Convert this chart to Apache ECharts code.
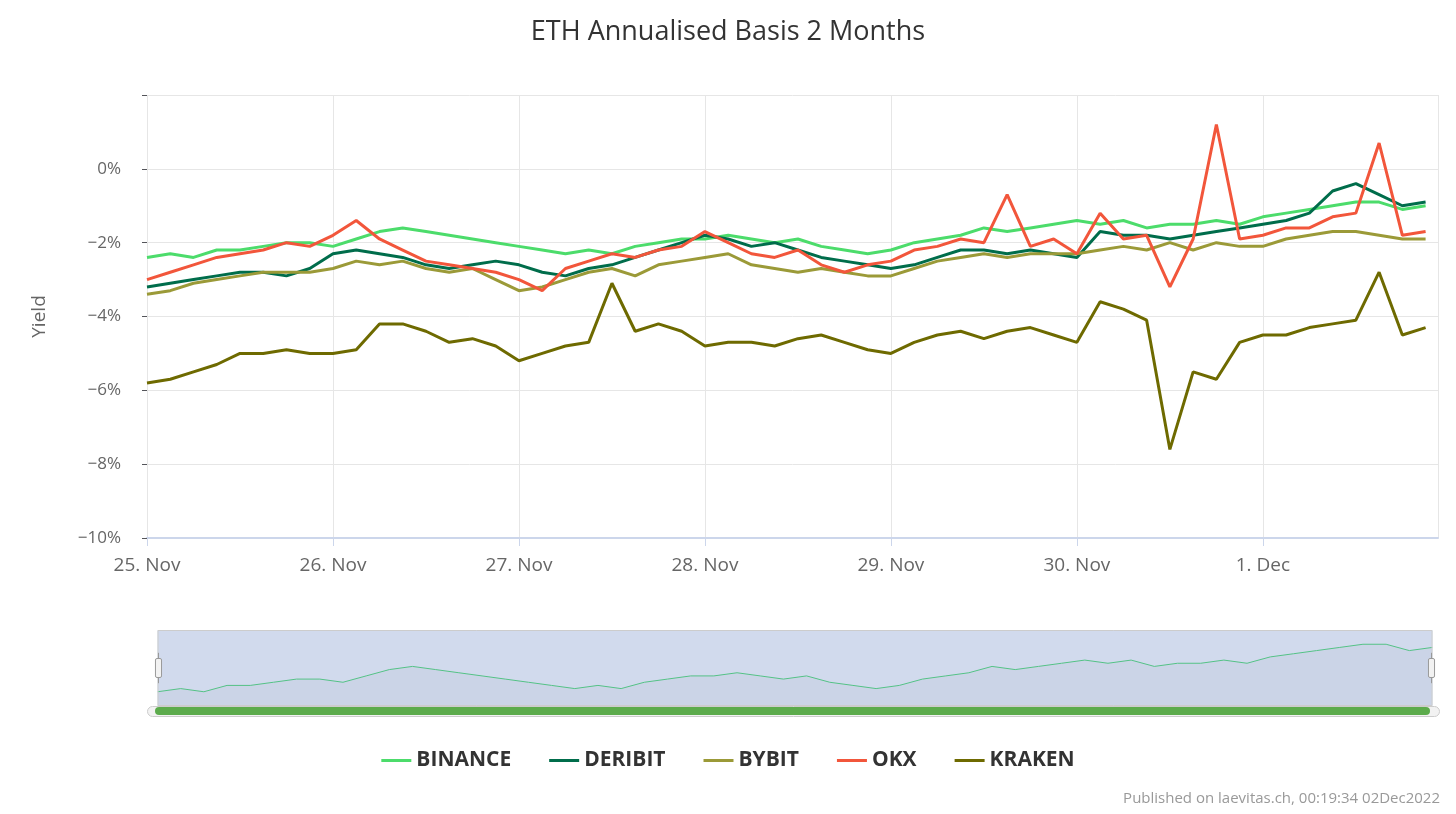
<!DOCTYPE html>
<html>
<head>
<meta charset="utf-8">
<script src="https://cdn.jsdelivr.net/npm/echarts@6/dist/echarts.min.js"></script>
<style>
html, body { margin: 0; padding: 0; background: #fff; }
#chart { width: 1456px; height: 814px; }
</style>
</head>
<body>
<div id="chart"></div>
<script>
// x values: hours since 25 Nov 00:00, one point every 3 hours
var stepHours = 3;
var dayLabels = ['25. Nov', '26. Nov', '27. Nov', '28. Nov', '29. Nov', '30. Nov', '1. Dec'];
var seriesNames = ['BINANCE', 'DERIBIT', 'BYBIT', 'OKX', 'KRAKEN'];
var seriesColors = ['#4cdc6b', '#006d4b', '#9b9a38', '#f2563b', '#6e6a00'];

var binance = [
	-2.4, -2.3, -2.4, -2.2, -2.2, -2.1, -2.0, -2.0,
	-2.1, -1.9, -1.7, -1.6, -1.7, -1.8, -1.9, -2.0,
	-2.1, -2.2, -2.3, -2.2, -2.3, -2.1, -2.0, -1.9,
	-1.9, -1.8, -1.9, -2.0, -1.9, -2.1, -2.2, -2.3,
	-2.2, -2.0, -1.9, -1.8, -1.6, -1.7, -1.6, -1.5,
	-1.4, -1.5, -1.4, -1.6, -1.5, -1.5, -1.4, -1.5,
	-1.3, -1.2, -1.1, -1.0, -0.9, -0.9, -1.1, -1.0
];
var deribit = [
	-3.2, -3.1, -3.0, -2.9, -2.8, -2.8, -2.9, -2.7,
	-2.3, -2.2, -2.3, -2.4, -2.6, -2.7, -2.6, -2.5,
	-2.6, -2.8, -2.9, -2.7, -2.6, -2.4, -2.2, -2.0,
	-1.8, -1.9, -2.1, -2.0, -2.2, -2.4, -2.5, -2.6,
	-2.7, -2.6, -2.4, -2.2, -2.2, -2.3, -2.2, -2.3,
	-2.4, -1.7, -1.8, -1.8, -1.9, -1.8, -1.7, -1.6,
	-1.5, -1.4, -1.2, -0.6, -0.4, -0.7, -1.0, -0.9
];
var bybit = [
	-3.4, -3.3, -3.1, -3.0, -2.9, -2.8, -2.8, -2.8,
	-2.7, -2.5, -2.6, -2.5, -2.7, -2.8, -2.7, -3.0,
	-3.3, -3.2, -3.0, -2.8, -2.7, -2.9, -2.6, -2.5,
	-2.4, -2.3, -2.6, -2.7, -2.8, -2.7, -2.8, -2.9,
	-2.9, -2.7, -2.5, -2.4, -2.3, -2.4, -2.3, -2.3,
	-2.3, -2.2, -2.1, -2.2, -2.0, -2.2, -2.0, -2.1,
	-2.1, -1.9, -1.8, -1.7, -1.7, -1.8, -1.9, -1.9
];
var okx = [
	-3.0, -2.8, -2.6, -2.4, -2.3, -2.2, -2.0, -2.1,
	-1.8, -1.4, -1.9, -2.2, -2.5, -2.6, -2.7, -2.8,
	-3.0, -3.3, -2.7, -2.5, -2.3, -2.4, -2.2, -2.1,
	-1.7, -2.0, -2.3, -2.4, -2.2, -2.6, -2.8, -2.6,
	-2.5, -2.2, -2.1, -1.9, -2.0, -0.7, -2.1, -1.9,
	-2.3, -1.2, -1.9, -1.8, -3.2, -1.9, 1.2, -1.9,
	-1.8, -1.6, -1.6, -1.3, -1.2, 0.7, -1.8, -1.7
];
var kraken = [
	-5.8, -5.7, -5.5, -5.3, -5.0, -5.0, -4.9, -5.0,
	-5.0, -4.9, -4.2, -4.2, -4.4, -4.7, -4.6, -4.8,
	-5.2, -5.0, -4.8, -4.7, -3.1, -4.4, -4.2, -4.4,
	-4.8, -4.7, -4.7, -4.8, -4.6, -4.5, -4.7, -4.9,
	-5.0, -4.7, -4.5, -4.4, -4.6, -4.4, -4.3, -4.5,
	-4.7, -3.6, -3.8, -4.1, -7.6, -5.5, -5.7, -4.7,
	-4.5, -4.5, -4.3, -4.2, -4.1, -2.8, -4.5, -4.3
];

var allValues = [binance, deribit, bybit, okx, kraken];

function toPoints(values) {
	return values.map(function (v, i) {
		return [i * stepHours, v];
	});
}

var series = seriesNames.map(function (name, k) {
	return {
		name: name,
		type: 'line',
		showSymbol: false,
		smooth: false,
		lineStyle: { width: 3, color: seriesColors[k] },
		itemStyle: { color: seriesColors[k] },
		data: toPoints(allValues[k])
	};
});

var chart = echarts.init(document.getElementById('chart'));
chart.setOption({
	animation: false,
	title: {
		text: 'ETH Annualised Basis 2 Months',
		left: 'center',
		top: 14,
		textStyle: { fontFamily: 'Open Sans', fontSize: 27, fontWeight: 'normal', color: '#333' }
	},
	graphic: [{
		type: 'text',
		right: 16,
		bottom: 8,
		style: { text: 'Published on laevitas.ch, 00:19:34 02Dec2022', fill: '#999', font: '15px "Open Sans"' }
	}, {
		// navigator scrollbar
		type: 'rect',
		left: 147,
		top: 706,
		shape: { width: 1292, height: 10, r: 5 },
		style: { fill: '#f2f2f2', stroke: '#cccccc' }
	}, {
		type: 'rect',
		left: 155,
		top: 707,
		shape: { width: 1275, height: 8, r: 4 },
		style: { fill: '#5cab4c' }
	}],
	legend: {
		bottom: 38,
		left: 'center',
		itemGap: 38,
		itemWidth: 30,
		itemHeight: 3,
		icon: 'rect',
		textStyle: { fontFamily: 'Open Sans', fontSize: 21, fontWeight: 'bold', color: '#333' },
		data: seriesNames
	},
	grid: { left: 147, right: 18, top: 95, height: 443 },
	xAxis: {
		type: 'value',
		min: 0,
		max: 166.6,
		interval: 24,
		axisLine: { onZero: false, lineStyle: { color: '#ccd6eb', width: 2 } },
		axisTick: { show: true, length: 8, lineStyle: { color: '#ccd6eb' } },
		splitLine: { show: true, lineStyle: { color: '#e6e6e6', width: 1 } },
		axisLabel: {
			fontFamily: 'Open Sans', fontSize: 19, color: '#666', margin: 18,
			showMaxLabel: false,
			formatter: function (v) {
				return dayLabels[Math.round(v / 24)] || '';
			}
		}
	},
	yAxis: {
		type: 'value',
		name: 'Yield',
		nameLocation: 'middle',
		nameGap: 98,
		nameTextStyle: { fontFamily: 'Open Sans', fontSize: 19, color: '#666' },
		min: -10,
		max: 2,
		interval: 2,
		axisLine: { show: false },
		splitLine: { lineStyle: { color: '#e6e6e6' } },
		axisLabel: {
			fontFamily: 'Open Sans', fontSize: 17, color: '#666', margin: 26,
			formatter: function (v) {
				if (v > 0) return '';
				return (v < 0 ? '\u2212' + Math.abs(v) : v) + '%';
			}
		}
	},
	dataZoom: [{
		type: 'slider',
		xAxisIndex: 0,
		left: 155,
		right: 26,
		top: 630,
		height: 76,
		start: 0,
		end: 100,
		borderColor: '#ccc',
		fillerColor: 'rgba(102,133,194,0.3)',
		backgroundColor: 'rgba(0,0,0,0)',
		showDetail: false,
		handleSize: '40%',
		handleStyle: { color: '#f2f2f2', borderColor: '#999' },
		moveHandleSize: 0,
		dataBackground: {
			lineStyle: { color: '#6e6a00', width: 1 },
			areaStyle: { color: 'rgba(0,0,0,0.12)' }
		},
		selectedDataBackground: {
			lineStyle: { color: '#4cdc6b', width: 1 },
			areaStyle: { color: 'rgba(0,0,0,0.12)' }
		}
	}],
	series: series
});
</script>
</body>
</html>
